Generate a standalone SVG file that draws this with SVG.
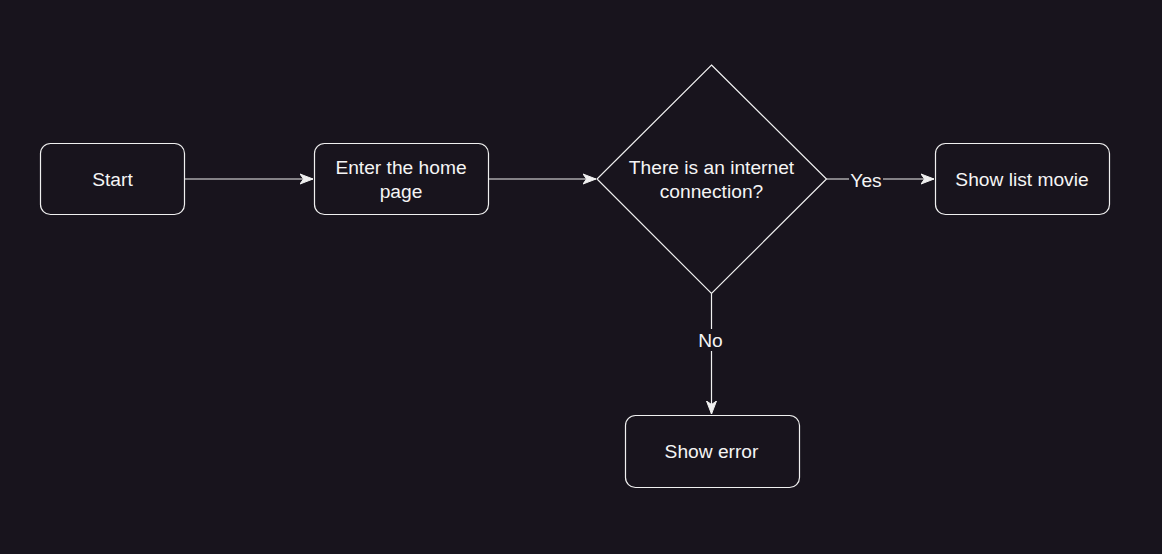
<svg xmlns="http://www.w3.org/2000/svg" width="1162" height="554" viewBox="0 0 1162 554">
<defs>
<style>
.node{fill:#18141d;stroke:#f0f0f0;stroke-width:1.2}
.edge{fill:none;stroke:#f0f0f0;stroke-width:1.2}
.t{font-family:"Liberation Sans",Arial,sans-serif;font-size:19.2px;fill:#f5f5f5;text-anchor:middle}
.lbl{fill:#18141d}
</style>
<marker id="arr" markerUnits="userSpaceOnUse" markerWidth="14" markerHeight="12" viewBox="0 0 14 12" refX="13" refY="6" orient="auto">
<path d="M0,1 L13,6 L0,11 L3.5,6 Z" fill="#f0f0f0" stroke="#f0f0f0" stroke-width="1"/>
</marker>
</defs>
<rect width="1162" height="554" fill="#18141d"/>
<g id="connectors">
<path class="edge" d="M184.5,179 L313,179" marker-end="url(#arr)"/>
<path class="edge" d="M488.5,179 L596,179" marker-end="url(#arr)"/>
<path class="edge" d="M826.5,179 L934,179" marker-end="url(#arr)"/>
<path class="edge" d="M711.5,293.5 L711.5,414" marker-end="url(#arr)"/>
<rect class="lbl" x="849" y="169" width="34" height="22"/>
<text class="t" x="866" y="186.5">Yes</text>
<rect class="lbl" x="697" y="329" width="29" height="22"/>
<text class="t" x="710.5" y="346.5">No</text>
</g>
<g id="start">
<rect class="node" x="40.5" y="143.5" width="144" height="71" rx="10"/>
<text class="t" x="112.5" y="185.5">Start</text>
</g>
<g id="home">
<rect class="node" x="314.5" y="143.5" width="174" height="71" rx="10"/>
<text class="t" x="401" y="173.5">Enter the home</text>
<text class="t" x="401" y="197.5">page</text>
</g>
<g id="decision">
<polygon class="node" points="711.5,65 826.5,179 711.5,293.5 597,179"/>
<text class="t" x="711.5" y="173.5">There is an internet</text>
<text class="t" x="711.5" y="197.5">connection?</text>
</g>
<g id="list">
<rect class="node" x="935.5" y="143.5" width="174" height="71" rx="10"/>
<text class="t" x="1022" y="185.5">Show list movie</text>
</g>
<g id="error">
<rect class="node" x="625.5" y="415.5" width="174" height="72" rx="10"/>
<text class="t" x="711.5" y="457.5">Show error</text>
</g>
</svg>
